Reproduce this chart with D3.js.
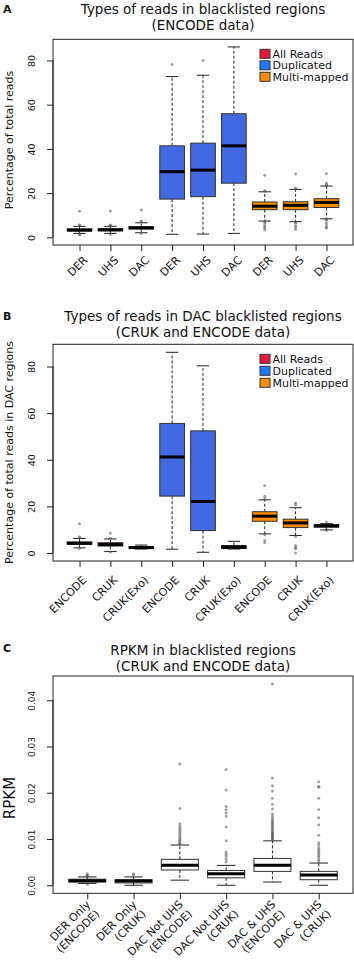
<!DOCTYPE html>
<html>
<head>
<meta charset="utf-8">
<script src="https://cdn.jsdelivr.net/npm/d3@7"></script>
<style>
  body { margin: 0; background: #fff; }
  text { font-family: "DejaVu Sans", sans-serif; fill: #111; }
</style>
</head>
<body>
<div id="chart"></div>
<script>
// ---- data ----
const seriesNames = ["All Reads", "Duplicated", "Multi-mapped"];
const seriesFill = ["#e6193c", "#4169e1", "#ff8c00"];
const legendFill = ["#e8173a", "#1f78ff", "#ff8c00"];

// panel A: ENCODE, by region type
const catsA = ["DER", "UHS", "DAC", "DER", "UHS", "DAC", "DER", "UHS", "DAC"];
const seriesA = [0, 0, 0, 1, 1, 1, 2, 2, 2];
const lowA = [1.8, 1.8, 2.1, 1.4, 1.5, 1.8, 7.4, 7.1, 8.4];
const q1A = [2.9, 3.0, 3.8, 17.3, 18.4, 24.5, 12.5, 12.5, 13.5];
const medA = [3.3, 3.4, 4.3, 29.7, 30.4, 41.4, 14.1, 14.5, 15.8];
const q3A = [3.8, 3.9, 4.8, 41.4, 42.6, 55.9, 16.0, 16.1, 17.5];
const highA = [5.0, 5.0, 6.6, 72.7, 73.3, 86.1, 20.6, 21.7, 23.2];
const outA = [
  [5.4, 5.7, 11.8, 1.4, 1.2],
  [5.4, 5.6, 11.9, 1.4],
  [7.1, 7.4, 12.4, 1.8],
  [78.2], [80.0], [],
  [20.9, 21.1, 28.1, 7.0, 6.7, 5.6, 4.8, 4.1, 3.3],
  [22.0, 22.2, 28.6, 6.8, 6.5, 5.3, 4.5, 3.6],
  [23.6, 23.9, 24.6, 28.9, 8.1, 7.8, 6.5, 5.6, 4.6, 4.2]
];

// panel B: DAC regions, ENCODE vs CRUK
const catsB = ["ENCODE", "CRUK", "CRUK(Exo)", "ENCODE", "CRUK", "CRUK(Exo)", "ENCODE", "CRUK", "CRUK(Exo)"];
const seriesB = [0, 0, 0, 1, 1, 1, 2, 2, 2];
const lowB = [2.2, 0.6, 1.7, 1.6, 0.3, 1.7, 8.2, 7.5, 9.9];
const q1B = [3.7, 3.0, 2.0, 24.4, 9.6, 1.9, 13.6, 10.9, 11.1];
const medB = [4.2, 3.6, 2.3, 41.2, 22.1, 2.5, 15.8, 12.9, 11.6];
const q3B = [4.7, 4.4, 2.7, 55.6, 52.4, 3.2, 17.7, 14.5, 12.2];
const highB = [6.2, 6.0, 3.4, 86.1, 80.3, 5.0, 22.8, 19.4, 12.6];
const outB = [
  [6.6, 7.0, 12.5, 1.9],
  [6.3, 8.5, 0.4],
  [],
  [], [], [],
  [23.4, 24.3, 29.0, 7.8, 5.3, 4.4],
  [20.8, 21.4, 7.1, 3.2, 2.4, 1.9, 0.0],
  [13.3, 10.0, 9.7]
];

// panel C: RPKM
const catsC = ["DER Only", "DER Only", "DAC Not UHS", "DAC Not UHS", "DAC & UHS", "DAC & UHS"];
const srcC = ["(ENCODE)", "(CRUK)", "(ENCODE)", "(CRUK)", "(ENCODE)", "(CRUK)"];
const lowC = [0.0004, 0.0, 0.0011, 0.0, 0.0007, 0.0];
const q1C = [0.0007, 0.0005, 0.0033, 0.0016, 0.0030, 0.0012];
const medC = [0.0010, 0.0009, 0.0043, 0.0025, 0.0043, 0.0022];
const q3C = [0.0013, 0.0012, 0.0056, 0.0032, 0.0058, 0.0030];
const highC = [0.0018, 0.0018, 0.0087, 0.0043, 0.0096, 0.0048];
const outC = [
  [0.0019, 0.0020, 0.0022, 0.0025, 0.0002],
  [0.0022, 0.0025],
  [0.0089, 0.0091, 0.0094, 0.0097, 0.0100, 0.0104, 0.0108, 0.0112, 0.0116, 0.0120, 0.0124, 0.0128, 0.0133, 0.0166, 0.0262],
  [0.0051, 0.0056, 0.0062, 0.0067, 0.0072, 0.0096, 0.0126, 0.0149, 0.0156, 0.0163, 0.0170, 0.0206, 0.0250],
  [0.0098, 0.0100, 0.0102, 0.0104, 0.0106, 0.0108, 0.0110, 0.0112, 0.0114, 0.0117, 0.0120, 0.0123, 0.0126,
   0.0129, 0.0132, 0.0135, 0.0138, 0.0141, 0.0145, 0.0149, 0.0154, 0.0165, 0.0175, 0.0188, 0.0204, 0.0215, 0.0232, 0.0435],
  [0.0052, 0.0056, 0.0061, 0.0065, 0.0069, 0.0073, 0.0077, 0.0081, 0.0087, 0.0092, 0.0108, 0.0131, 0.0146,
   0.0164, 0.0188, 0.0212, 0.0214, 0.0224]
];

const ticksAB = [0, 20, 40, 60, 80];
const ticksC = [0, 0.01, 0.02, 0.03, 0.04];

// ---- drawing ----
const svg = d3.select("#chart").append("svg")
    .attr("width", 354)
    .attr("height", 964);

const left = 53, right = 353;
const ink = "#222";

function drawPanel(p) {
  const n = p.low.length;
  const g = svg.append("g");

  // R-style axis ranges: 4% extension
  const x = d3.scaleLinear()
    .domain([0.5 - 0.04 * n, n + 0.5 + 0.04 * n])
    .range([left, right]);
  const all = [].concat(p.low, p.high, ...p.out);
  const lo = Math.min(0, d3.min(all)), hi = d3.max(all);
  const pad = (hi - lo) * 0.04;
  const y = d3.scaleLinear()
    .domain([lo - pad, hi + pad])
    .range([p.bottom, p.top]);

  const hw = (x(1) - x(0)) * 0.4;
  const idx = d3.range(n);

  // whiskers
  g.selectAll(".wu").data(idx).join("line")
    .attr("x1", i => x(i + 1)).attr("x2", i => x(i + 1))
    .attr("y1", i => y(p.q3[i])).attr("y2", i => y(p.high[i]))
    .attr("stroke", ink).attr("stroke-dasharray", "3,2");
  g.selectAll(".wl").data(idx).join("line")
    .attr("x1", i => x(i + 1)).attr("x2", i => x(i + 1))
    .attr("y1", i => y(p.q1[i])).attr("y2", i => y(p.low[i]))
    .attr("stroke", ink).attr("stroke-dasharray", "3,2");
  // staples
  [p.high, p.low].forEach(arr => {
    g.selectAll(null).data(idx).join("line")
      .attr("x1", i => x(i + 1) - hw / 2).attr("x2", i => x(i + 1) + hw / 2)
      .attr("y1", i => y(arr[i])).attr("y2", i => y(arr[i]))
      .attr("stroke", ink);
  });
  // boxes
  g.selectAll(".box").data(idx).join("rect")
    .attr("x", i => x(i + 1) - hw)
    .attr("width", hw * 2)
    .attr("y", i => y(p.q3[i]))
    .attr("height", i => y(p.q1[i]) - y(p.q3[i]))
    .attr("fill", i => p.fill(i))
    .attr("stroke", "#333");
  // medians
  g.selectAll(".med").data(idx).join("line")
    .attr("x1", i => x(i + 1) - hw).attr("x2", i => x(i + 1) + hw)
    .attr("y1", i => y(p.med[i])).attr("y2", i => y(p.med[i]))
    .attr("stroke", "#000").attr("stroke-width", 3);
  // outliers
  const pts = [];
  p.out.forEach((arr, i) => arr.forEach(v => pts.push([i, v])));
  g.selectAll(".out").data(pts).join("circle")
    .attr("cx", d => x(d[0] + 1))
    .attr("cy", d => y(d[1]))
    .attr("r", 1.5)
    .attr("fill", "#555")
    .attr("fill-opacity", 0.55);

  // frame
  g.append("rect")
    .attr("x", left).attr("y", p.top)
    .attr("width", right - left).attr("height", p.bottom - p.top)
    .attr("fill", "none").attr("stroke", ink);

  // y axis
  const ya = g.append("g")
    .attr("transform", `translate(${left},0)`)
    .call(d3.axisLeft(y).tickValues(p.ticks).tickSize(6).tickFormat(p.tickFormat));
  ya.select(".domain").remove();
  ya.append("line")
    .attr("y1", y(p.ticks[0])).attr("y2", y(p.ticks[p.ticks.length - 1]))
    .attr("stroke", ink);
  ya.selectAll(".tick line").attr("stroke", ink);
  ya.selectAll(".tick text")
    .attr("x", 0).attr("dy", 0)
    .attr("text-anchor", "middle")
    .attr("transform", "translate(-18,0) rotate(-90)")
    .style("font-family", "DejaVu Sans")
    .style("font-size", p.tickSize + "px")
    .attr("fill", "#111");

  // x axis
  const xa = g.append("g")
    .attr("transform", `translate(0,${p.bottom})`)
    .call(d3.axisBottom(x).tickValues(idx.map(i => i + 1)).tickSize(6).tickFormat(""));
  xa.select(".domain").remove();
  xa.selectAll(".tick line").attr("stroke", ink);

  idx.forEach(i => {
    const t = g.append("text")
      .attr("transform", `translate(${x(i + 1) + p.labDx},${p.bottom + p.labDy}) rotate(-45)`)
      .attr("text-anchor", "end")
      .style("font-size", p.labSize + "px");
    p.labels[i].forEach((s, k) => {
      t.append("tspan").attr("x", 0).attr("y", 0)
        .attr("dy", (0.35 + k * 1.2) + "em").text(s);
    });
  });

  // y title
  g.append("text")
    .attr("transform", `translate(${p.ytX},${p.ytY}) rotate(-90)`)
    .attr("text-anchor", "middle")
    .style("font-size", p.ytSize + "px")
    .text(p.ytitle);

  // title
  p.title.forEach((s, k) => {
    g.append("text")
      .attr("x", (left + right) / 2)
      .attr("y", p.titleY[k])
      .attr("text-anchor", "middle")
      .style("font-size", "13.5px")
      .text(s);
  });

  // panel letter
  g.append("text")
    .attr("x", 3).attr("y", p.letterY)
    .style("font-size", "11px").style("font-weight", "bold")
    .text(p.letter);

  // legend
  if (p.legend) {
    const lg = g.append("g").attr("transform", `translate(260,${p.top + 10})`);
    seriesNames.forEach((s, k) => {
      lg.append("rect")
        .attr("x", 0).attr("y", k * p.legStep)
        .attr("width", 10).attr("height", 9)
        .attr("fill", legendFill[k]).attr("stroke", "#333");
      lg.append("text")
        .attr("x", 12.5).attr("y", k * p.legStep + 8.5)
        .style("font-size", "11px")
        .text(s);
    });
  }
}

drawPanel({
  top: 39.3, bottom: 245, low: lowA, q1: q1A, med: medA, q3: q3A, high: highA, out: outA,
  fill: i => seriesFill[seriesA[i]],
  labels: catsA.map(c => [c]), labDx: 6, labDy: 13, labSize: 11,
  ticks: ticksAB, tickFormat: d3.format("d"), tickSize: 9.5,
  ytitle: "Percentage of total reads", ytX: 12.5, ytY: 140, ytSize: 11,
  title: ["Types of reads in blacklisted regions", "(ENCODE data)"], titleY: [14, 29.5],
  letter: "A", letterY: 13, legend: true, legStep: 11.5
});

drawPanel({
  top: 344.3, bottom: 561, low: lowB, q1: q1B, med: medB, q3: q3B, high: highB, out: outB,
  fill: i => seriesFill[seriesB[i]],
  labels: catsB.map(c => [c]), labDx: 5, labDy: 17, labSize: 11,
  ticks: ticksAB, tickFormat: d3.format("d"), tickSize: 9.5,
  ytitle: "Percentage of total reads in DAC regions", ytX: 12.5, ytY: 452.5, ytSize: 11,
  title: ["Types of reads in DAC blacklisted regions", "(CRUK and ENCODE data)"], titleY: [321, 336.5],
  letter: "B", letterY: 320, legend: true, legStep: 12
});

drawPanel({
  top: 676, bottom: 893.3, low: lowC, q1: q1C, med: medC, q3: q3C, high: highC, out: outC,
  fill: () => "#fff",
  labels: catsC.map((c, i) => [c, srcC[i]]), labDx: 1, labDy: 9, labSize: 11,
  ticks: ticksC, tickFormat: d3.format(".2f"), tickSize: 9,
  ytitle: "RPKM", ytX: 15, ytY: 798, ytSize: 15,
  title: ["RPKM in blacklisted regions", "(CRUK and ENCODE data)"], titleY: [655, 670.5],
  letter: "C", letterY: 652, legend: false
});
</script>
</body>
</html>
